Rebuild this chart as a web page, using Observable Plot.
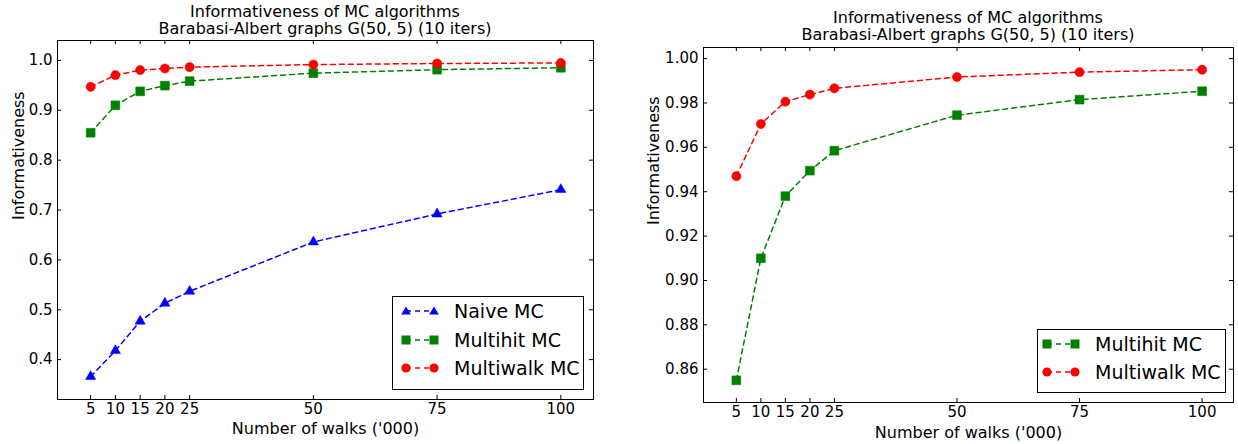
<!DOCTYPE html>
<html>
<head>
<meta charset="utf-8">
<script src="https://cdn.jsdelivr.net/npm/d3@7"></script>
<script src="https://cdn.jsdelivr.net/npm/@observablehq/plot@0.6"></script>
<style>
  body { margin: 0; background: #fff; }
  #wrap { position: relative; width: 1238px; height: 444px; font-family: "DejaVu Sans", sans-serif; color: #000; overflow: hidden; }
  .panel { position: absolute; top: 0; }
  .title { position: absolute; text-align: center; font-size: 16px; white-space: nowrap; transform: translateX(-50%); }
  .legend { position: absolute; border: 1px solid #000; background: #fff; box-sizing: border-box; }
  .legend .row { position: absolute; display: flex; align-items: center; font-size: 19px; white-space: nowrap; }
</style>
</head>
<body>
<div id="wrap"></div>
<script>
// ---- data ----
const walks = [5, 10, 15, 20, 25, 50, 75, 100];
const naive = [0.366, 0.418, 0.477, 0.513, 0.537, 0.636, 0.692, 0.741];
const multihit = [0.855, 0.910, 0.938, 0.9495, 0.9585, 0.9745, 0.9815, 0.9853];
const multiwalk = [0.947, 0.9705, 0.9806, 0.9838, 0.9866, 0.9917, 0.9939, 0.9950];
const seriesNames = ["Naive MC", "Multihit MC", "Multiwalk MC"];
const seriesColors = ["#0000ff", "#008000", "#ff0000"];
const seriesSymbols = ["triangle", "square", "circle"];
const xTicks = [5, 10, 15, 20, 25, 50, 75, 100];
const yTicksLeft = [0.4, 0.5, 0.6, 0.7, 0.8, 0.9, 1.0];
const yTicksRight = [0.86, 0.88, 0.90, 0.92, 0.94, 0.96, 0.98, 1.00];
const titleLines = ["Informativeness of MC algorithms", "Barabasi-Albert graphs G(50, 5) (10 iters)"];
const xLabel = "Number of walks ('000)";
const yLabel = "Informativeness";

const allSeries = [naive, multihit, multiwalk];
const symbolR = {triangle: 3.8, square: 5.0, circle: 4.6};
function rows(idx) {
  const out = [];
  for (const i of idx) walks.forEach((w, j) => out.push({walks: w, value: allSeries[i][j], series: seriesNames[i], k: i}));
  return out;
}

const wrap = document.getElementById("wrap");

function panel({left, width, height, mL, mR, mT, mB, xDomain, yDomain, yTicks, yFormat, idx, yLabelDx, xLabelDy}) {
  const data = rows(idx);
  const fw = width - mL - mR, fh = height - mT - mB;
  const marks = [
    // inward ticks on all four sides
    Plot.tickX(xTicks, {x: d => d, insetTop: fh - 4, stroke: "#000"}),
    Plot.tickX(xTicks, {x: d => d, insetBottom: fh - 4, stroke: "#000"}),
    Plot.tickY(yTicks, {y: d => d, insetRight: fw - 4, stroke: "#000"}),
    Plot.tickY(yTicks, {y: d => d, insetLeft: fw - 4, stroke: "#000"}),
    Plot.axisX(xTicks, {tickSize: 0, tickPadding: 4, label: null, fontSize: 15}),
    Plot.axisY(yTicks, {tickSize: 0, tickPadding: 5, tickFormat: yFormat, label: null, fontSize: 15}),
    Plot.text([xLabel], {text: d => d, frameAnchor: "bottom", dy: xLabelDy, fontSize: 16, fill: "#000"}),
    Plot.text([yLabel], {text: d => d, frameAnchor: "left", rotate: -90, dx: yLabelDx, fontSize: 16, fill: "#000"}),
  ];
  for (const i of idx) {
    const d = data.filter(r => r.k === i);
    marks.push(Plot.line(d, {x: "walks", y: "value", stroke: seriesColors[i], strokeWidth: 1.5, strokeDasharray: "5,4"}));
  }
  for (const i of idx) {
    const d = data.filter(r => r.k === i);
    marks.push(Plot.dot(d, {x: "walks", y: "value", symbol: () => seriesSymbols[i], fill: seriesColors[i], stroke: seriesColors[i], strokeWidth: 0.5,
      r: symbolR[seriesSymbols[i]]}));
  }
  marks.push(Plot.frame({stroke: "#000", strokeWidth: 1}));
  const svg = Plot.plot({
    width, height, marginLeft: mL, marginRight: mR, marginTop: mT, marginBottom: mB,
    x: {domain: xDomain},
    y: {domain: yDomain},
    symbol: {type: "identity"},
    style: {fontFamily: "DejaVu Sans", fontSize: "15px", color: "#000", background: "transparent", overflow: "visible"},
    marks
  });
  const holder = document.createElement("div");
  holder.className = "panel";
  holder.style.left = left + "px";
  holder.appendChild(svg);
  wrap.appendChild(holder);
}

panel({left: 0, width: 620, height: 444, mL: 57, mR: 27, mT: 40, mB: 45,
  xDomain: [-1.7, 106.6], yDomain: [0.32, 1.04], yTicks: yTicksLeft, yFormat: d3.format(".1f"),
  idx: [0, 1, 2], yLabelDx: -39, xLabelDy: 34});
panel({left: 620, width: 618, height: 444, mL: 83, mR: 5, mT: 47, mB: 42,
  xDomain: [-1.7, 106.4], yDomain: [0.845, 1.005], yTicks: yTicksRight, yFormat: d3.format(".2f"),
  idx: [1, 2], yLabelDx: -50, xLabelDy: 35});

function title(cx, top, lh) {
  const t = document.createElement("div");
  t.className = "title";
  t.style.left = cx + "px";
  t.style.top = top + "px";
  t.style.lineHeight = lh + "px";
  t.innerHTML = titleLines.map(s => `<div>${s}</div>`).join("");
  wrap.appendChild(t);
}
title(325, 3, 17);
title(968, 9, 17);

function markerSvg(i) {
  const c = seriesColors[i], s = seriesSymbols[i];
  const shape = (x) => s === "circle" ? `<circle cx="${x}" cy="8" r="4.6" fill="${c}"/>`
    : s === "square" ? `<rect x="${x - 4.5}" y="3.5" width="9" height="9" fill="${c}"/>`
    : `<polygon points="${x},3.5 ${x + 4.8},11.5 ${x - 4.8},11.5" fill="${c}"/>`;
  return `<svg width="40" height="16" style="margin-right:14px"><line x1="6" y1="8" x2="34" y2="8" stroke="${c}" stroke-width="1.5" stroke-dasharray="5,4"/>${shape(6)}${shape(34)}</svg>`;
}
function legend(left, top, w, h, idx, rowTops, padLeft) {
  const L = document.createElement("div");
  L.className = "legend";
  Object.assign(L.style, {left: left + "px", top: top + "px", width: w + "px", height: h + "px"});
  idx.forEach((i, j) => {
    const r = document.createElement("div");
    r.className = "row";
    r.style.left = padLeft + "px";
    r.style.top = rowTops[j] + "px";
    r.innerHTML = markerSvg(i) + `<span>${seriesNames[i]}</span>`;
    L.appendChild(r);
  });
  wrap.appendChild(L);
}
legend(392, 296, 192, 94, [0, 1, 2], [3, 31.5, 60], 7);
legend(1037, 329, 189, 64, [1, 2], [3, 31], 3);
</script>
</body>
</html>
